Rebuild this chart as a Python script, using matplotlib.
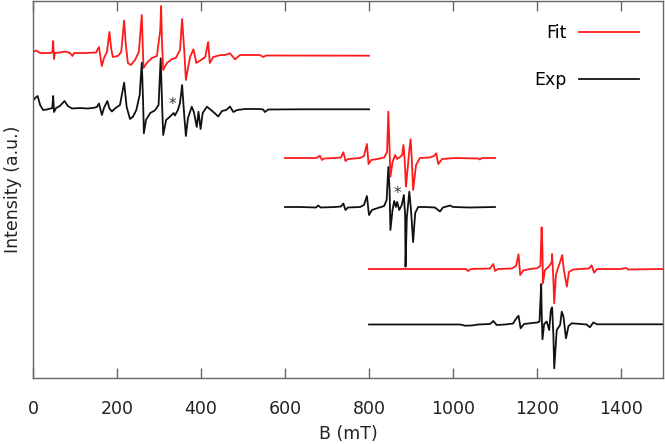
import matplotlib
matplotlib.use('Agg')
import matplotlib.pyplot as plt

# -------------------------------------------------------------------------------------------------------------------- #
# Data (B in mT, intensity in a.u. relative to each trace's baseline)
# -------------------------------------------------------------------------------------------------------------------- #

fit1_b = [0, 7, 17, 40, 46, 48, 50, 52, 64, 76, 88, 94, 98, 124, 150, 157, 162, 164, 169, 176, 182, 186, 190, 202,
          210, 217, 221, 226, 233, 243, 252, 259, 263, 271, 283, 295, 303, 305, 307, 310, 319, 331, 340, 350, 355,
          360, 364, 369, 374, 382, 389, 400, 410, 417, 421, 429, 438, 447, 457, 469, 481, 493, 540, 548, 555, 800]
fit1_i = [0.5, 2, -0.5, -0.5, 0, 11.5, -6.5, -0.5, 0, 1, -0.5, -3.5, -0.5, -0.5, 0, 5.5, -8.5, -13.5, -5.5, 0.5,
          20.5, 4.5, -4.5, -3.5, 0.5, 32, 7.5, -10.5, -12.5, -7.5, 0.5, 37.5, -15.5, -10.5, -5.5, -3.5, 22.5, 46.5,
          12.5, -17.5, -10.5, -6.5, -5.5, 2.5, 33.5, 2.5, -27.5, -15.5, -4.5, 3.2, -10.5, -7.5, -4.5, 10.5, -10.5,
          -4.5, -3.5, -2.5, -2.5, -0.8, -6.8, -2.5, -2.5, -4.5, -3, -3.2]

exp1_b = [0, 5, 11, 17, 24, 33, 46, 48, 50, 55, 64, 75, 83, 93, 112, 129, 143, 152, 157, 164, 169, 177, 182, 188,
          195, 207, 217, 223, 231, 238, 246, 254, 259, 262, 264, 269, 279, 290, 299, 304, 307, 310, 317, 326, 335,
          338, 345, 350, 355, 360, 364, 369, 378, 383, 390, 394, 399, 404, 414, 421, 433, 441, 450, 460, 469, 477,
          486, 505, 540, 548, 552, 560, 636, 800]
exp1_i = [7.5, 10.5, 12.5, 3.5, -1.5, -1, 0.5, 12.5, -3.5, 0.5, 2.5, 7.5, 2.5, 0, 0.5, 0, 0.5, 1.5, 5, -6.5, 0.5,
          7.5, 0, -3, 0, 3.5, 25.8, 1.5, -10.5, -8.2, -1.5, 13.5, 45.8, 8.5, -24.8, -11.5, -4.5, -2, 3.5, 50.2, 8.5,
          -26.5, -11.5, -8.2, -4.5, -7, -1.5, 5.5, 23.5, -6.5, -27.5, -9.5, 1.8, -3.5, -18.5, -3.2, -20.5, -4.5, 1.8,
          -0.5, -4.8, -8, -2.5, -1.5, 2, -3.5, -1.5, -0.5, -0.5, -1, -3.5, -1, -0.8, -0.8]

fit2_b = [600, 636, 674, 679, 683, 688, 693, 719, 733, 739, 744, 750, 779, 788, 795, 799, 805, 821, 836, 843, 846,
          849, 851, 856, 862, 867, 874, 879, 882, 885, 888, 893, 896, 899, 902, 905, 912, 921, 945, 955, 960, 965,
          974, 1005, 1060, 1064, 1069, 1100]
fit2_i = [0, 0, 0, 1, 2.3, -2, -0.5, 0, 0.5, 5.7, -3, -1, 0, 2, 14, -6, -2, -1, 0.5, 6, 46.3, 8, -18.7, -4, 3, -1,
          1, 3, 13, -2, -28.7, -6, 8, 18.7, -2, -32, -7, 0, 0.5, 2, 4.7, -6, -1, 0, -0.5, -1.5, 0, 0]

exp2_b = [600, 636, 674, 679, 685, 719, 733, 739, 744, 750, 779, 788, 795, 800, 807, 821, 836, 842, 846, 849, 851,
          856, 860, 864, 867, 872, 878, 883, 886, 887, 890, 896, 900, 905, 910, 917, 933, 957, 969, 976, 993, 1000,
          1040, 1100]
exp2_i = [0, 0, -0.5, 1.5, -0.5, 0, 0.5, 3.5, -3, -0.5, 0, 2, 11, -8, -3, -1, 1, 7, 40, 17, -23, -3, 6, 0, 5, -3,
          2, 12, -8, -59.7, -11, 15.3, -3, -35, -6, 0, 0, -0.5, -4.5, -0.5, 1.5, 0, -0.5, 0]

fit3_b = [800, 969, 1031, 1036, 1043, 1088, 1096, 1100, 1107, 1140, 1150, 1156, 1160, 1167, 1183, 1200, 1208, 1211,
          1213, 1214, 1219, 1226, 1231, 1235, 1236, 1239, 1241, 1245, 1250, 1255, 1260, 1264, 1271, 1276, 1286,
          1302, 1324, 1330, 1336, 1343, 1398, 1412, 1417, 1500]
fit3_i = [0, 0, 0, -2, 0, 0.5, 5, -2, 0, 0.5, 3, 14.7, -6, -1.5, 0, 0.7, 3, 41.7, 19, -14.3, -1, 1.5, 4, 7, 15, -11,
          -34.3, -6, 1, 7, 14, -1, -17.7, -3, -0.5, 0, 0.5, 3.7, -3.7, 0, 0, 1, -0.5, 0]

exp3_b = [800, 969, 1017, 1029, 1045, 1060, 1088, 1096, 1104, 1124, 1143, 1148, 1156, 1161, 1169, 1183, 1200, 1206,
          1210, 1211, 1213, 1217, 1223, 1229, 1233, 1236, 1239, 1241, 1247, 1255, 1259, 1263, 1269, 1275, 1283,
          1318, 1326, 1334, 1343, 1500]
exp3_i = [-0.1, -0.1, -0.1, -1.3, -1.1, -0.1, 0.4, 3.4, -0.6, -0.1, 0.9, 4.4, 8.7, -3.9, 0.4, 1.1, 1.9, 2.7, 40.4,
          14.4, -14.9, 0.4, 2.9, -5.6, 14.4, 17.1, -10.6, -43.9, -5.6, -0.6, 12.7, 7.7, -13.9, -1.6, 1.1, -0.1,
          -2.9, 1.9, 0.1, 0.1]

# vertical offsets of the stacked traces
offsets = [325, 269, 219.5, 170.5, 108.5, 53.1]

# impurity marks (*) on the experimental traces
star_b = [331, 867]
star_i = [273.5, 184.5]

# -------------------------------------------------------------------------------------------------------------------- #
# Plot
# -------------------------------------------------------------------------------------------------------------------- #

plt.rcParams['font.family'] = 'DejaVu Sans'
plt.rcParams['font.size'] = 12.5

red = '#ff1a1a'
blk = '#111111'

fig = plt.figure(figsize=(6.65, 4.44), dpi=100)
ax = fig.add_axes([33 / 665, 1 - 377.5 / 444, 630 / 665, 376.5 / 444])

traces = [(fit1_b, fit1_i, red, 'Fit'), (exp1_b, exp1_i, blk, 'Exp'),
          (fit2_b, fit2_i, red, None), (exp2_b, exp2_i, blk, None),
          (fit3_b, fit3_i, red, None), (exp3_b, exp3_i, blk, None)]

for (b, inten, col, lab), off in zip(traces, offsets):
    ax.plot(b, [v + off for v in inten], color=col, lw=1.3, label=lab, solid_joinstyle='round')

for b, y in zip(star_b, star_i):
    ax.text(b, y, '*', ha='center', va='center', fontsize=11, color='#333333')

ax.set_xlim(0, 1500)
ax.set_ylim(0, 376.5)
ax.set_yticks([])
ax.set_xticks(range(0, 1500, 200))
ax.tick_params(axis='x', direction='in', length=7, width=1, color='#666666', top=True, pad=16, labelcolor='#222222')
for s in ax.spines.values():
    s.set_color('#666666')
    s.set_linewidth(1)

ax.set_xlabel('B (mT)', color='#222222', labelpad=5)
ax.set_ylabel('Intensity (a.u.)', color='#222222', labelpad=8)

ax.legend(loc='upper right', bbox_to_anchor=(0.962, 0.938), frameon=False, markerfirst=False,
          handlelength=3.45, handletextpad=0.7, labelspacing=1.65, borderpad=0, borderaxespad=0)

fig.savefig('out.png', dpi=100)
